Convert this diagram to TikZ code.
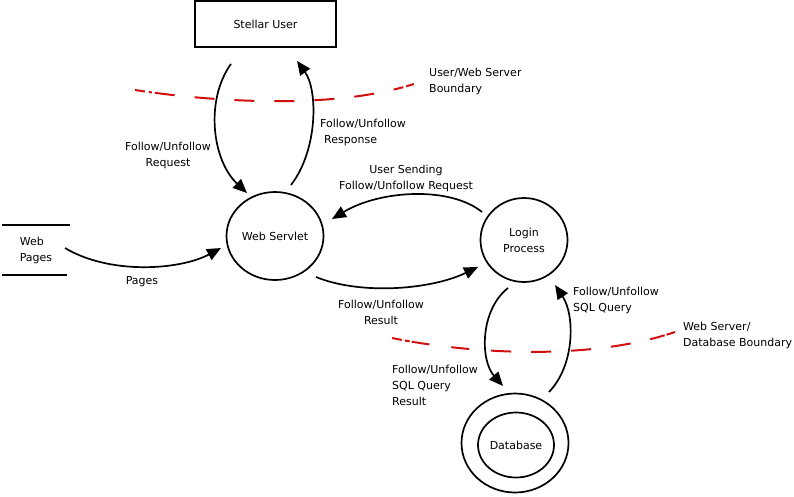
\documentclass[tikz,border=0pt]{standalone}
\usepackage{fontspec}
\setmainfont{DejaVu Sans}
\usetikzlibrary{arrows.meta,calc,shapes.geometric}
\definecolor{bndred}{RGB}{210,15,15}
\begin{document}
\begin{tikzpicture}[x=1pt,y=-1pt,font=\fontsize{11}{16}\selectfont,
	flow/.style={line width=1.7pt,-{Triangle[length=14pt,width=12pt]}},
	proc/.style={ellipse,draw,line width=1.7pt,inner sep=0pt,align=center},
	bound/.style={bndred,line width=2pt},
	txt/.style={align=center,inner sep=0pt},
	lbl/.style={align=left,anchor=west,inner sep=0pt}]
				\useasboundingbox (0,0) rectangle (794,496);
				\node[draw,line width=1.8pt,minimum width=141pt,minimum height=46pt] (user) at (265.5,24) {Stellar User};
				\node[proc,minimum width=97pt,minimum height=88pt] (servlet) at (275,236) {Web Servlet};
				\node[proc,minimum width=87pt,minimum height=84pt] (login) at (524,240) {Login\\Process};
				\node[proc,minimum width=107pt,minimum height=99pt] (dbout) at (515,443) {};
				\node[proc,minimum width=76pt,minimum height=65pt] (db) at (516,445) {Database};
				\node[align=left,minimum width=68pt,minimum height=50pt,inner sep=0pt] (pages) at (36,250) {Web\\Pages};
				\draw[line width=2pt] (pages.north west) -- (pages.north east);
				\draw[line width=2pt] (pages.south west) -- ++(65,0);
				\draw[flow] ($(user.south)+(-34.5,16)$) .. controls (205,100) and (212,160) .. ($(servlet)+(-28,-43)$);
				\draw[flow] ($(servlet)+(16,-51)$) .. controls (318,150) and (318,90) .. ($(user.south)+(31.5,13)$);
				\draw[flow] ($(login)+(-42,-28)$) .. controls (450,186) and (380,190) .. ($(servlet)+(57,-17)$);
				\draw[flow] ($(servlet)+(41,41)$) .. controls (360,295) and (430,290) .. ($(login)+(-46,27)$);
				\draw[flow] ($(pages)+(29,-2)$) .. controls (110,275) and (180,270) .. ($(servlet)+(-54,12)$);
				\draw[flow] ($(login)+(-16,48)$) .. controls (480,310) and (480,360) .. ($(dbout)+(-12,-57)$);
				\draw[flow] ($(dbout)+(34,-51)$) .. controls (575,365) and (575,315) .. ($(login)+(31,45)$);
				\draw[bound,dash pattern=on 10pt off 4pt on 3pt off 3pt on 20pt off 20pt on 20pt off 20pt on 20pt off 20pt on 20pt off 20pt on 20pt off 20pt on 20pt off 20pt on 10pt off 3pt on 8pt off 100pt]
					(135,90) .. controls (200,100) and (330,112) .. (417,83);
				\draw[bound,dash pattern=on 10pt off 3pt on 5pt off 2pt on 18pt off 22pt on 18pt off 22pt on 20pt off 20pt on 20pt off 20pt on 20pt off 20pt on 20pt off 20pt on 15pt off 2pt on 9pt off 100pt]
					(392,338) .. controls (450,350) and (580,365) .. (678,331);
				\node[txt] (lreq) at (168,155) {Follow/Unfollow\\Request};
				\node[lbl] (lresp) at (320,132) {Follow/Unfollow\\\hspace{4pt}Response};
				\node[txt] (lsend) at (406,178) {User Sending\\Follow/Unfollow Request};
				\node[txt] (lres) at (381,312) {Follow/Unfollow\\Result};
				\node[txt] (lpg) at (142,282) {Pages};
				\node[lbl] (lsqlres) at (392,385) {Follow/Unfollow\\SQL Query\\Result};
				\node[lbl] (lsql) at (573,300) {Follow/Unfollow\\SQL Query};
				\node[lbl] (lbnd) at (429,81) {User/Web Server\\Boundary};
				\node[lbl] (ldbnd) at (683,335) {Web Server/\\Database Boundary};
			\end{tikzpicture}
\end{document}
